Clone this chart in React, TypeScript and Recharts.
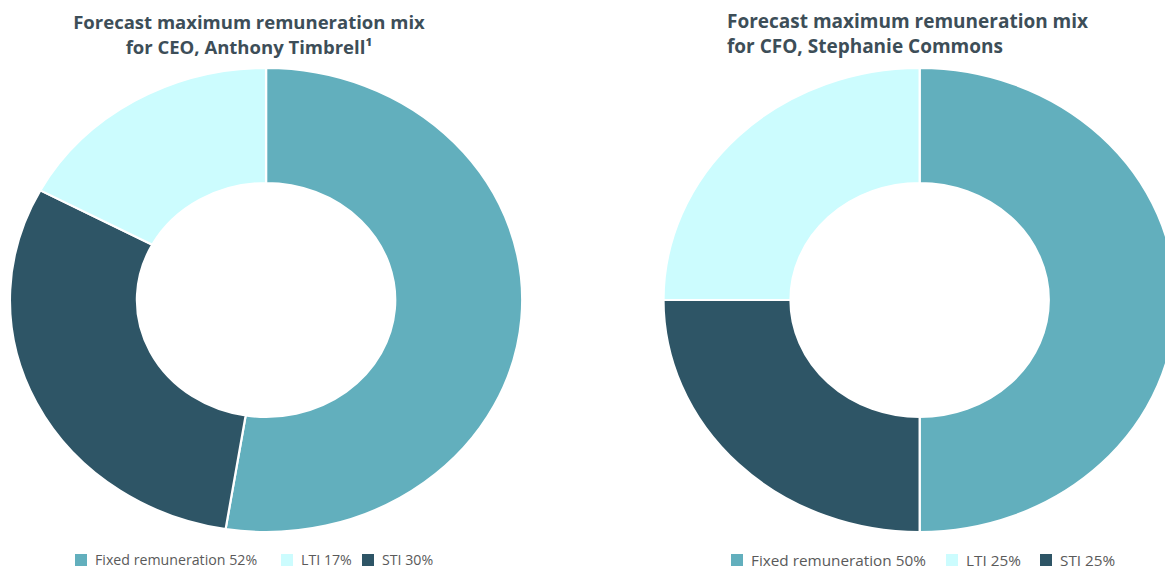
import { PieChart, Pie, Cell } from 'recharts'

const sliceNames = ['Fixed remuneration', 'STI', 'LTI']
const ceoValues = [52, 30, 17]
const cfoValues = [50, 25, 25]
const sliceColors = ['#62afbd', '#2e5566', '#ccfcfe']

const legendNames = ['Fixed remuneration', 'LTI', 'STI']
const ceoLegend = ['52%', '17%', '30%']
const cfoLegend = ['50%', '25%', '25%']
const legendColors = ['#62afbd', '#ccfcfe', '#2e5566']

const ceoData = sliceNames.map((name, i) => ({ name, value: ceoValues[i] }))
const cfoData = sliceNames.map((name, i) => ({ name, value: cfoValues[i] }))

const SX = 1.104

function Legend({ pct, xs, fontSize }: { pct: string[]; xs: number[]; fontSize: number }) {
  return (
    <>
      {legendNames.map((n, i) => (
        <div
          key={n}
          style={{
            position: 'absolute',
            left: xs[i],
            top: 552,
            height: 16,
            display: 'flex',
            alignItems: 'center',
            fontFamily: 'Open Sans',
            fontSize,
            lineHeight: '16px',
            color: '#5a5a5a',
            whiteSpace: 'nowrap',
          }}
        >
          <span style={{ width: 12, height: 12, background: legendColors[i], display: 'inline-block', marginRight: 8 }} />
          {n} {pct[i]}
        </div>
      ))}
    </>
  )
}

export default function App() {
  const titleStyle = {
    position: 'absolute' as const,
    fontFamily: 'Open Sans',
    fontWeight: 700,
    color: '#3d4e58',
    lineHeight: '25px',
    whiteSpace: 'nowrap' as const,
  }
  return (
    <div style={{ position: 'absolute', left: 0, top: 0, width: 1165, height: 569, overflow: 'hidden', background: '#fff' }}>
      <div style={{ position: 'absolute', left: 0, top: 0, transform: `scaleX(${SX})`, transformOrigin: '0 0' }}>
        <PieChart width={1056} height={569} margin={{ top: 0, right: 0, bottom: 0, left: 0 }}>
          <Pie
            data={ceoData}
            dataKey="value"
            cx={241}
            cy={300}
            innerRadius={117}
            outerRadius={232}
            startAngle={90}
            endAngle={-270}
            stroke="#fff"
            strokeWidth={2}
            isAnimationActive={false}
          >
            {ceoData.map((d, i) => (
              <Cell key={d.name} fill={sliceColors[i]} />
            ))}
          </Pie>
          <Pie
            data={cfoData}
            dataKey="value"
            cx={833}
            cy={300}
            innerRadius={117}
            outerRadius={232}
            startAngle={90}
            endAngle={-270}
            stroke="#fff"
            strokeWidth={2}
            isAnimationActive={false}
          >
            {cfoData.map((d, i) => (
              <Cell key={d.name} fill={sliceColors[i]} />
            ))}
          </Pie>
        </PieChart>
      </div>
      <div style={{ ...titleStyle, left: 49, top: 9, width: 400, textAlign: 'center', fontSize: 18.5 }}>
        Forecast maximum remuneration mix
        <br />
        for CEO, Anthony Timbrell¹
      </div>
      <div style={{ ...titleStyle, left: 727, top: 9, fontSize: 19 }}>
        Forecast maximum remuneration mix
        <br />
        for CFO, Stephanie Commons
      </div>
      <Legend pct={ceoLegend} xs={[75, 281, 362]} fontSize={14.2} />
      <Legend pct={cfoLegend} xs={[731, 946, 1040]} fontSize={15.3} />
    </div>
  )
}
